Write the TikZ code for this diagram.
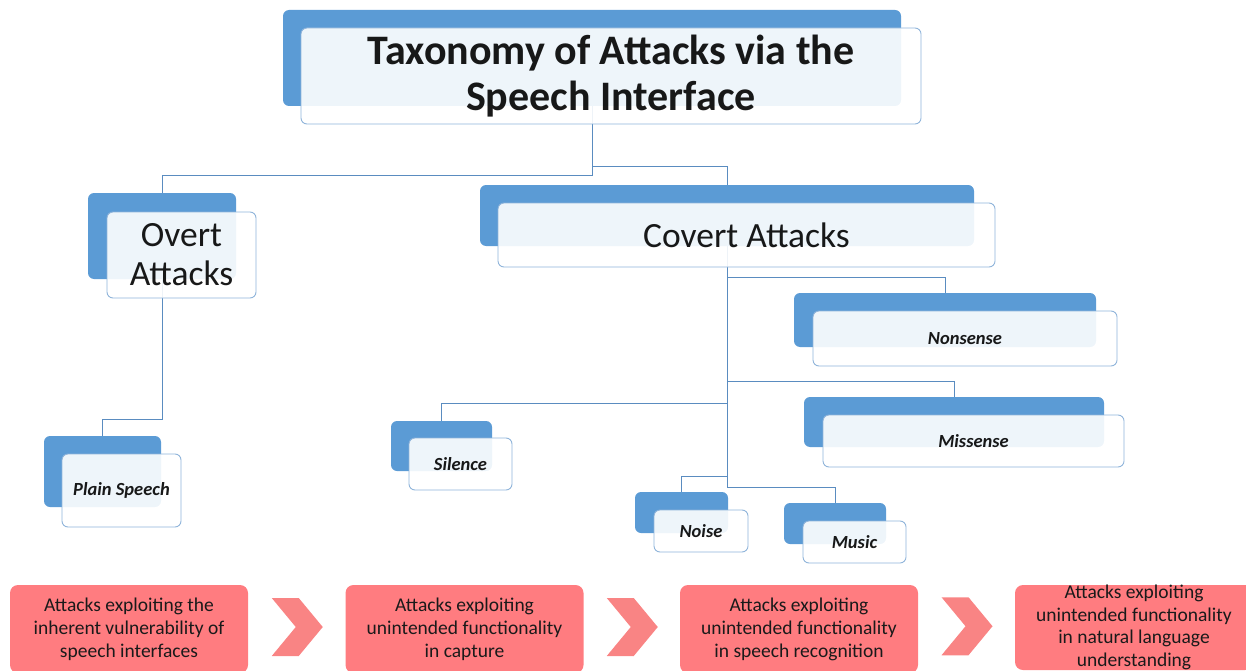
\documentclass[tikz,border=0pt]{standalone}
\usepackage{fontspec}
\setmainfont{Carlito}
\usetikzlibrary{calc}
\definecolor{backblue}{HTML}{5B9BD5}
\definecolor{frameblue}{HTML}{8FB4DA}
\definecolor{linkblue}{HTML}{5A8CC0}
\definecolor{stagered}{HTML}{FF7C80}
\definecolor{chevred}{HTML}{F98484}
\definecolor{stagetext}{HTML}{1A1A1A}

\begin{document}
\begin{tikzpicture}[x=1pt,y=-1pt,
  size/.style 2 args={minimum width=#1pt, minimum height=#2pt},
  back/.style={fill=backblue, rounded corners=6pt, inner sep=0pt, outer sep=0pt},
  front/.style={fill=white, fill opacity=0.9, draw=frameblue, line width=0.9pt,
    rounded corners=6pt, inner sep=0pt, outer sep=0pt, align=center, text=black},
  link/.style={draw=linkblue, line width=0.9pt},
  leaf/.style={font=\fontsize{18.5}{21}\selectfont\bfseries\itshape},
  branch/.style={font=\fontsize{35.5}{39}\selectfont},
  stage/.style={fill=stagered, rounded corners=8pt, size={238}{88}, align=center,
    text=stagetext, font=\fontsize{19.5}{23}\selectfont, inner sep=0pt},
]
\useasboundingbox (0,0) rectangle (1246,671);

% back plates of the tree
\node[back, size={618}{96}] (title-back)   at (592,58)   {};
\node[back, size={148}{86}] (overt-back)   at (162,236)  {};
\node[back, size={494}{61}] (covert-back)  at (727,215.5) {};
\node[back, size={117}{71}] (plain-back)   at (102.5,471.5) {};
\node[back, size={101}{50}] (silence-back) at (441.5,446) {};
\node[back, size={302}{54}] (nonsense-back) at (945,320) {};
\node[back, size={300}{50}] (missense-back) at (954,422) {};
\node[back, size={93}{41}]  (noise-back)   at (681.5,512.5) {};
\node[back, size={102}{41}] (music-back)   at (835,523.5) {};

% tree connectors, drawn beneath the front cards
\draw[link] (title-back.south) |- ([yshift=18pt]overt-back.north) -- (overt-back.north);
\draw[link] (title-back.south) |- ([yshift=19pt]covert-back.north) -- (covert-back.north);
\draw[link] (overt-back.south) |- ([yshift=17pt]plain-back.north) -- (plain-back.north);
\draw[link] (covert-back.south) |- ([yshift=16pt]nonsense-back.north) -- (nonsense-back.north);
\draw[link] (covert-back.south) |- ([yshift=16pt]missense-back.north) -- (missense-back.north);
\draw[link] (covert-back.south) |- ([yshift=18pt]silence-back.north) -- (silence-back.north);
\draw[link] (covert-back.south) |- ([yshift=16pt]noise-back.north) -- (noise-back.north);
\draw[link] (covert-back.south) |- ([yshift=16pt]music-back.north) -- (music-back.north);

% front cards with the labels
\node[front, size={620}{96}, font=\fontsize{42}{46}\selectfont\bfseries] (title) at (611,76)
  {Taxonomy of Attacks via the\\Speech Interface};
\node[front, size={149}{86}, branch] (overt) at (181.5,255) {Overt\\Attacks};
\node[front, size={497}{64}, branch] (covert) at (746.5,235) {Covert Attacks};
\node[front, size={119}{73}, leaf] (plain) at (121.5,490.5) {Plain Speech};
\node[front, size={103}{52}, leaf] (silence) at (460.5,464) {Silence};
\node[front, size={304}{55}, leaf] (nonsense) at (965,338.5) {Nonsense};
\node[front, size={301}{52}, leaf] (missense) at (973.5,441) {Missense};
\node[front, size={94}{42}, leaf] (noise) at (701,531) {Noise};
\node[front, size={103}{42}, leaf] (music) at (854.5,542) {Music};

% pipeline stages along the bottom
\node[stage] (s1) at (129,629) {Attacks exploiting the\\inherent vulnerability of\\speech interfaces};
\node[stage] (s2) at (464.5,629) {Attacks exploiting\\unintended functionality\\in capture};
\node[stage] (s3) at (799,629) {Attacks exploiting\\unintended functionality\\in speech recognition};
\node[stage, size={238}{85}, font=\fontsize{19.5}{22.5}\selectfont] (s4) at (1134,627.5)
  {Attacks exploiting\\unintended functionality\\in natural language\\understanding};

% chevrons between the stages
\foreach \a/\b in {s1/s2,s2/s3,s3/s4}{
  \coordinate (m) at ($(\a.east)!0.5!(\b.west)$);
  \fill[chevred] ([shift={(-25,-31)}]m) -- ++(27,0) -- ++(24,29) -- ++(-24,29)
    -- ++(-27,0) -- ++(24,-29) -- cycle;
}
\end{tikzpicture}
\end{document}
